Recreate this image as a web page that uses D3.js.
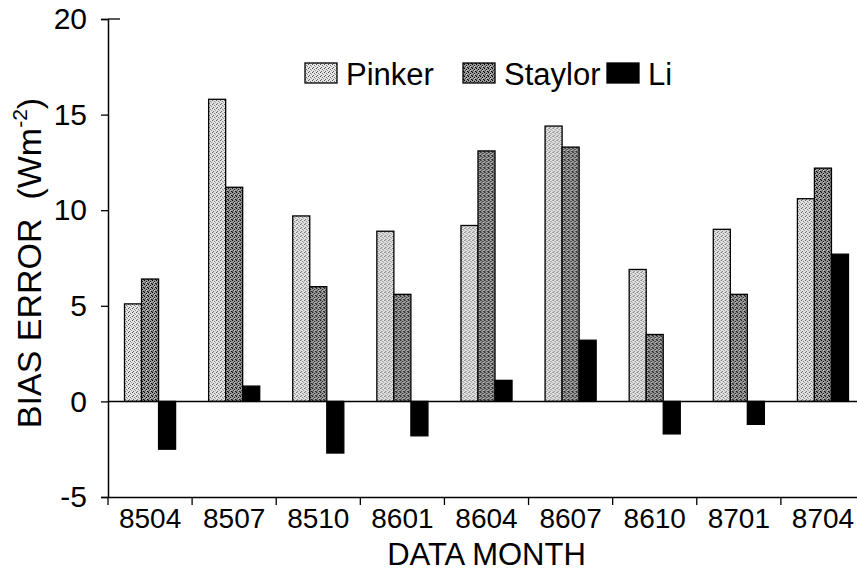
<!DOCTYPE html>
<html>
<head>
<meta charset="utf-8">
<script src="https://cdn.jsdelivr.net/npm/d3@7"></script>
<style>
  body { margin: 0; background: #fff; }
  svg { display: block; }
  text { font-family: "Liberation Sans", Arial, sans-serif; fill: #000; }
</style>
</head>
<body>
<div id="chart"></div>
<script>
// Data
const months = ["8504", "8507", "8510", "8601", "8604", "8607", "8610", "8701", "8704"];
const series = ["Pinker", "Staylor", "Li"];
const pinker  = [5.1, 15.8, 9.7, 8.9, 9.2, 14.4, 6.9, 9.0, 10.6];
const staylor = [6.4, 11.2, 6.0, 5.6, 13.1, 13.3, 3.5, 5.6, 12.2];
const li      = [-2.5, 0.8, -2.7, -1.8, 1.1, 3.2, -1.7, -1.2, 7.7];
const yTicks  = [-5, 0, 5, 10, 15, 20];

const values = { Pinker: pinker, Staylor: staylor, Li: li };

const width = 857, height = 572;

const svg = d3.select("#chart")
    .append("svg")
    .attr("width", width)
    .attr("height", height);

// halftone-like fills
const defs = svg.append("defs");
function dotPattern(id, bg, dots) {
    const p = defs.append("pattern")
        .attr("id", id)
        .attr("patternUnits", "userSpaceOnUse")
        .attr("width", 4).attr("height", 4);
    p.append("rect").attr("width", 4).attr("height", 4).attr("fill", bg);
    dots.forEach(d => {
        p.append("rect").attr("x", d[0]).attr("y", d[1])
            .attr("width", 1).attr("height", 1).attr("fill", d[2] || "#000");
    });
}
dotPattern("pat-pinker", "#e4e4e4", [[0, 0, "#555"], [2, 1, "#777"], [1, 3, "#666"], [3, 2, "#999"]]);
dotPattern("pat-staylor", "#9a9a9a", [[0, 0], [2, 1], [1, 2, "#333"], [3, 3], [0, 3, "#555"], [2, 2, "#ddd"]]);

const fills = { Pinker: "url(#pat-pinker)", Staylor: "url(#pat-staylor)", Li: "#000" };

// Scales
const x = d3.scaleBand().domain(months).range([108, 865]).padding(0);
const x1 = d3.scaleBand().domain(series).range([0, x.bandwidth()]).paddingInner(0).paddingOuter(0.97);
const y = d3.scaleLinear().domain([-5, 20]).range([497, 19]);

// Bars
const groups = svg.selectAll(".month")
    .data(months)
    .enter().append("g")
    .attr("class", "month")
    .attr("transform", d => `translate(${x(d)},0)`);

groups.selectAll("rect")
    .data((m, i) => series.map(s => ({ s: s, v: values[s][i] })))
    .enter().append("rect")
    .attr("x", d => x1(d.s))
    .attr("width", x1.bandwidth())
    .attr("y", d => y(Math.max(0, d.v)))
    .attr("height", d => Math.abs(y(d.v) - y(0)))
    .attr("fill", d => fills[d.s])
    .attr("stroke", "#000")
    .attr("stroke-width", 1.3);

// Zero line
svg.append("line")
    .attr("x1", 108).attr("x2", width)
    .attr("y1", y(0)).attr("y2", y(0))
    .attr("stroke", "#000")
    .attr("stroke-width", 1.5);

// Y axis
const yAxis = svg.append("g")
    .attr("transform", "translate(108,0)")
    .call(d3.axisLeft(y).tickValues(yTicks).tickSize(7).tickPadding(14).tickFormat(d => String(d)));
yAxis.select(".domain").attr("stroke-width", 1.5);
yAxis.selectAll(".tick line").attr("stroke-width", 1.3);
yAxis.selectAll(".tick text")
    .attr("font-size", "30px")
    .attr("font-family", "'Liberation Sans', Arial, sans-serif");
// top tick crosses the axis
svg.append("line")
    .attr("x1", 108).attr("x2", 120)
    .attr("y1", y(20)).attr("y2", y(20))
    .attr("stroke", "#000").attr("stroke-width", 1.3);

// X axis
const xAxis = svg.append("g")
    .attr("transform", `translate(0,${y(-5)})`)
    .call(d3.axisBottom(x).tickSize(0).tickPadding(11));
xAxis.select(".domain").attr("stroke-width", 1.5);
xAxis.selectAll(".tick text")
    .attr("font-size", "28px")
    .attr("font-family", "'Liberation Sans', Arial, sans-serif");
// ticks at the band edges
xAxis.selectAll(".edge")
    .data(months)
    .enter().append("line")
    .attr("class", "edge")
    .attr("x1", d => x(d)).attr("x2", d => x(d))
    .attr("y1", 0).attr("y2", 8)
    .attr("stroke", "#000").attr("stroke-width", 1.3);

// Axis titles
svg.append("text")
    .attr("x", (108 + 865) / 2)
    .attr("y", 565)
    .attr("text-anchor", "middle")
    .attr("font-size", "31px")
    .text("DATA MONTH");

const yTitle = svg.append("text")
    .attr("transform", "translate(41,263) rotate(-90)")
    .attr("text-anchor", "middle")
    .attr("font-size", "34px");
yTitle.append("tspan").text("BIAS ERROR\u00a0\u00a0(Wm");
yTitle.append("tspan").attr("font-size", "21px").attr("dy", -14).text("-2");
yTitle.append("tspan").attr("dy", 14).text(")");

// Legend
const legendItems = [
    { s: "Pinker", bx: 305, tx: 346 },
    { s: "Staylor", bx: 463, tx: 504 },
    { s: "Li", bx: 607, tx: 648 }
];
const legend = svg.append("g").attr("class", "legend");
legend.selectAll("rect")
    .data(legendItems)
    .enter().append("rect")
    .attr("x", d => d.bx).attr("y", 63)
    .attr("width", 32).attr("height", 20)
    .attr("fill", d => fills[d.s])
    .attr("stroke", "#000").attr("stroke-width", 1.3);
legend.selectAll("text")
    .data(legendItems)
    .enter().append("text")
    .attr("x", d => d.tx).attr("y", 85)
    .attr("font-size", "31px")
    .text(d => d.s);
</script>
</body>
</html>
